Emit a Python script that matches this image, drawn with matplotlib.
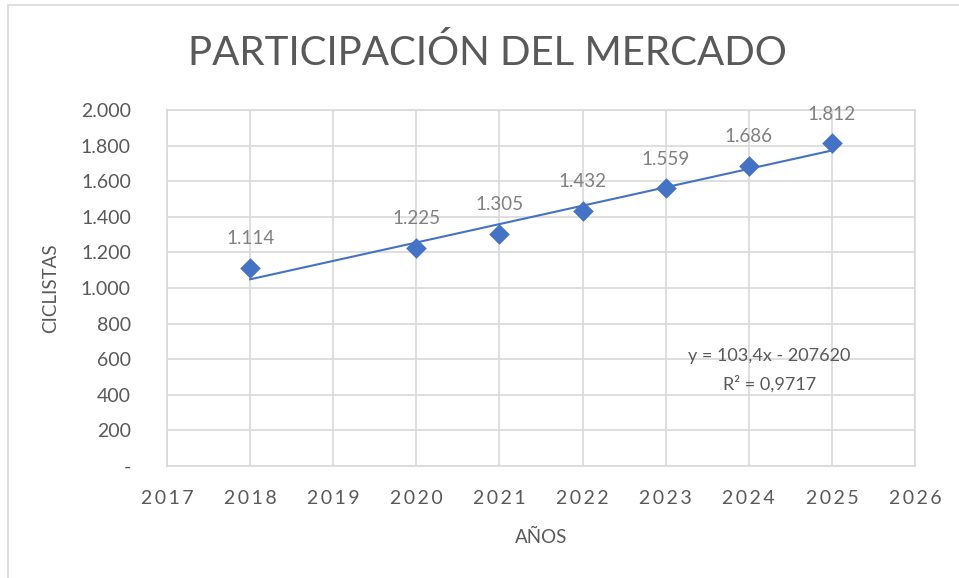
import matplotlib.pyplot as plt
import numpy as np
from matplotlib.patches import Rectangle
from matplotlib.ticker import FuncFormatter

# datos
anios = [2018, 2020, 2021, 2022, 2023, 2024, 2025]
ciclistas = [1114, 1225, 1305, 1432, 1559, 1686, 1812]
x_ticks = list(range(2017, 2027))
y_ticks = list(range(0, 2001, 200))
titulo = "PARTICIPACIÓN DEL MERCADO"
ecuacion = "y = 103,4x - 207620"
r2 = "R² = 0,9717"

plt.rcParams['font.family'] = ['Lato', 'DejaVu Sans']
azul = '#4472C4'
gris = '#595959'


def espaciar(s, sep='\u200a'):
    # imita el espaciado de letras de Excel
    return sep.join(s)


fig = plt.figure(figsize=(9.59, 5.78), dpi=100)
fig.patches.append(Rectangle((8 / 959, -0.1), 1.2, 1.1 - 5 / 578, transform=fig.transFigure,
                             fill=False, edgecolor='#d9d9d9', linewidth=1.2))

ax = fig.add_axes([167 / 959, 1 - 466 / 578, (915 - 167) / 959, (466 - 110) / 578])
ax.set_xlim(2017, 2026)
ax.set_ylim(0, 2000)

# linea de tendencia (minimos cuadrados)
m, b = np.polyfit(anios, ciclistas, 1)
xt = np.array([anios[0], anios[-1]])
ax.plot(xt, m * xt + b, color=azul, linewidth=1.5, zorder=3)

ax.scatter(anios, ciclistas, marker='D', s=110, color=azul, zorder=4, linewidths=0)
for x, y in zip(anios, ciclistas):
    ax.annotate(f"{y:,}".replace(',', '.'), (x, y), xytext=(0, 15), textcoords='offset points',
                ha='center', va='bottom', fontsize=13.5, color='#808080')

ax.text(2024.25, 620, ecuacion, ha='center', va='center', fontsize=13, color=gris)
ax.text(2024.25, 460, r2, ha='center', va='center', fontsize=13, color=gris)

ax.set_xticks(x_ticks)
ax.set_xticklabels([espaciar(str(t), '\u2009') for t in x_ticks])
ax.set_yticks(y_ticks)
ax.yaxis.set_major_formatter(FuncFormatter(
    lambda v, p: '-' if v == 0 else f"{int(v):,}".replace(',', '.')))
ax.tick_params(length=0, labelsize=14, labelcolor=gris)
ax.tick_params(axis='x', pad=17)
ax.tick_params(axis='y', pad=26)
ax.grid(True, color='#d9d9d9', linewidth=1.2)
ax.set_axisbelow(True)
for s in ax.spines.values():
    s.set_color('#d9d9d9')
    s.set_linewidth(1.2)

ax.set_xlabel('AÑOS', fontsize=13.5, color=gris, labelpad=16)
ax.set_ylabel('CICLISTAS', fontsize=13.5, color=gris, labelpad=16)

fig.text(487 / 959, 1 - 53 / 578, titulo, ha='center', va='center',
         fontsize=29, color=gris)

fig.savefig('out.png', dpi=100)
